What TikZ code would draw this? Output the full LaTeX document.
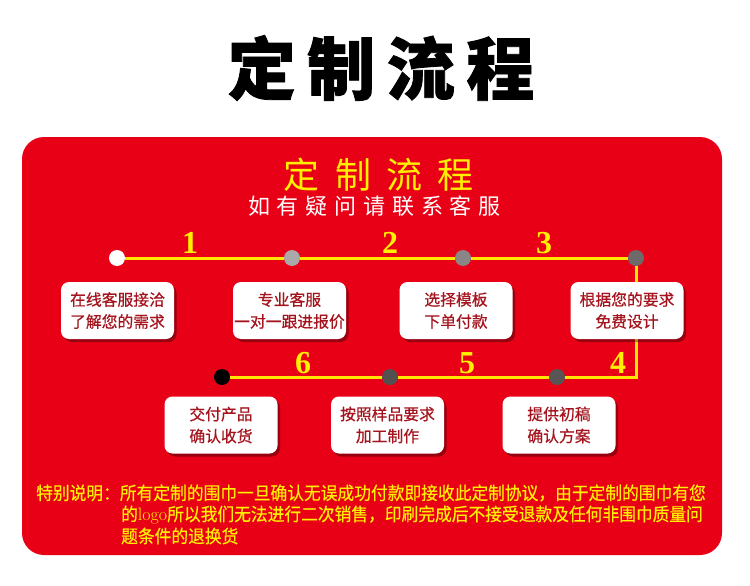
\documentclass[tikz,border=0pt]{standalone}
\usepackage{fontspec}
\newfontfamily\cjk{Noto Sans CJK SC}
\newfontfamily\cjkbox[FakeBold=0.6]{Noto Sans CJK SC}
\newfontfamily\cjknote[FakeStretch=0.93,FakeBold=0.4]{Noto Sans CJK SC}
\newfontfamily\numfont{Liberation Serif}
\usetikzlibrary{shadows}
\definecolor{panelred}{RGB}{232,0,22}
\definecolor{lineyellow}{RGB}{255,230,0}
\definecolor{titleyellow}{RGB}{255,240,0}
\definecolor{boxtext}{RGB}{165,20,30}
\definecolor{dotb}{RGB}{170,168,168}
\definecolor{dotc}{RGB}{138,134,134}
\definecolor{dotd}{RGB}{110,106,106}
\definecolor{dote}{RGB}{90,85,85}
\definecolor{dotf}{RGB}{85,80,80}
\tikzset{
  yline/.style={draw=lineyellow, line width=3pt},
  dot/.style={circle, inner sep=0pt, minimum size=16pt, fill=#1},
  stepbox/.style={rounded corners=8pt, fill=white, minimum width=113pt, minimum height=57pt,
    align=center, text=boxtext, font=\cjkbox\fontsize{15.8}{22}\selectfont, inner sep=0pt,
    drop shadow={shadow xshift=2.5pt, shadow yshift=-3pt, opacity=0.35, fill=black}},
  num/.style={text=titleyellow, font=\numfont\bfseries\fontsize{32}{32}\selectfont, inner sep=0pt},
  note/.style={text=titleyellow, font=\cjknote\fontsize{18}{20}\selectfont, anchor=west, inner sep=0pt}
}
\begin{document}
\begin{tikzpicture}[x=1pt,y=-1pt]
\useasboundingbox (0,0) rectangle (750,586);
\fill[white] (0,0) rectangle (750,586);
\node[font=\cjk\bfseries\fontsize{68}{72}\selectfont\addfontfeature{LetterSpace=17,FakeBold=1.2}, inner sep=0pt] (title) at (381,68) {定制流程};
\fill[panelred, rounded corners=22pt] (22,137) rectangle (722,555);
\node[text=titleyellow, font=\cjk\fontsize{36}{40}\selectfont\addfontfeature{LetterSpace=42}, inner sep=0pt] (sub) at (378.6,175) {定制流程};
\node[text=white, font=\cjk\fontsize{22}{24}\selectfont\addfontfeature{LetterSpace=31}, inner sep=0pt] (ask) at (374.4,206) {如有疑问请联系客服};

% dots
\node[dot=white] (d1) at (117,258) {};
\node[dot=dotb] (d2) at (292,258) {};
\node[dot=dotc] (d3) at (463,258) {};
\node[dot=dotd] (d4) at (636,258) {};
\node[dot=dote] (d5) at (557,377) {};
\node[dot=dotf] (d6) at (390,377) {};
\node[dot=black] (d7) at (222,377) {};

\draw[yline] (d1) -- (d2);
\draw[yline] (d2) -- (d3);
\draw[yline] (d3) -- (d4);
\draw[yline] (d4) |- (d5);
\draw[yline] (d5) -- (d6);
\draw[yline] (d6) -- (d7);

% numbers
\node[num] (n1) at (190,243) {1};
\node[num] (n2) at (390,243) {2};
\node[num] (n3) at (544,243) {3};
\node[num] (n4) at (618,363) {4};
\node[num] (n5) at (467,363) {5};
\node[num] (n6) at (303,363) {6};

% boxes
\node[stepbox] (b1) at (117.5,310.5) {在线客服接洽\\了解您的需求};
\node[stepbox] (b2) at (289.5,310.5) {专业客服\\一对一跟进报价};
\node[stepbox] (b3) at (456,310.5) {选择模板\\下单付款};
\node[stepbox] (b4) at (627,310.5) {根据您的要求\\免费设计};
\node[stepbox] (b5) at (559,425) {提供初稿\\确认方案};
\node[stepbox] (b6) at (387.5,425) {按照样品要求\\加工制作};
\node[stepbox] (b7) at (221,425) {交付产品\\确认收货};

% note
\node[note] (t1) at (36,493) {特别说明：所有定制的围巾一旦确认无误成功付款即接收此定制协议，由于定制的围巾有您};
\node[note] (t2) at (121,515) {的{\rmfamily logo}所以我们无法进行二次销售，印刷完成后不接受退款及任何非围巾质量问};
\node[note] (t3) at (121,536) {题条件的退换货};
\end{tikzpicture}
\end{document}
